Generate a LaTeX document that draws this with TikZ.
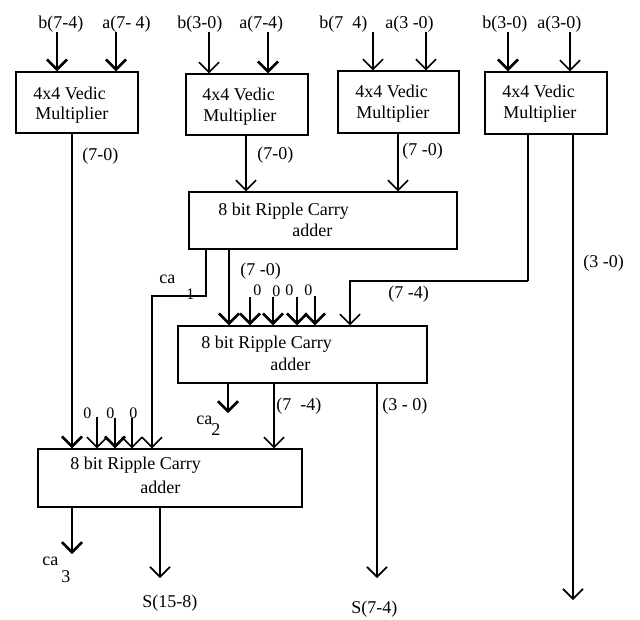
\documentclass[tikz,border=0pt]{standalone}
\usepackage{fontspec}
\setmainfont{Liberation Serif}
\usetikzlibrary{arrows.meta}
\begin{document}
\begin{tikzpicture}[x=0.75pt,y=-0.75pt,
  box/.style={draw,line width=1.1pt,inner sep=0pt,minimum width=#1},
  arr/.style={line width=1.2pt,-{Straight Barb[length=7.5pt,width=15pt,line width=1.2pt]}},
  thk/.style={line width=1.9pt,-{Straight Barb[length=7.5pt,width=15pt,line width=1.9pt]}},
  thkline/.style={line width=1.9pt},
  lbl/.style={inner sep=0pt,anchor=base west,font=\fontsize{13.5}{15}\selectfont},
  sml/.style={inner sep=0pt,anchor=base west,font=\fontsize{12}{13}\selectfont},
  btxt/.style={inner sep=0pt,anchor=base west,font=\fontsize{13.5}{15}\selectfont}]
\useasboundingbox (0,0) rectangle (640,619);
% boxes
\node[box=91.5pt,minimum height=45.75pt] (m1) at (77,102.5) {};
\node[box=91.5pt,minimum height=45.75pt] (m2) at (247,104.5) {};
\node[box=90.75pt,minimum height=46.5pt] (m3) at (398.5,102) {};
\node[box=91.5pt,minimum height=46.5pt] (m4) at (546,103) {};
\node[box=201pt,minimum height=42.75pt] (r1) at (323,220.5) {};
\node[box=186.75pt,minimum height=42.75pt] (r2) at (302.5,354.5) {};
\node[box=198pt,minimum height=43.5pt] (r3) at (170,478) {};
% box texts
\node[btxt] (t1a) at (33,99) {4x4 Vedic};
\node[btxt] (t1b) at (35,119) {Multiplier};
\node[btxt] (t2a) at (202,100) {4x4 Vedic};
\node[btxt] (t2b) at (203,121) {Multiplier};
\node[btxt] (t3a) at (355,97) {4x4 Vedic};
\node[btxt] (t3b) at (356,118) {Multiplier};
\node[btxt] (t4a) at (502,97) {4x4 Vedic};
\node[btxt] (t4b) at (503,118) {Multiplier};
\node[btxt] (r1a) at (218,215) {8 bit Ripple Carry};
\node[btxt] (r1b) at (292,236) {adder};
\node[btxt] (r2a) at (201,348) {8 bit Ripple Carry};
\node[btxt] (r2b) at (270,370) {adder};
\node[btxt] (r3a) at (70,469) {8 bit Ripple Carry};
\node[btxt] (r3b) at (140,493) {adder};
% input labels
\node[lbl] (l1) at (38,28) {b(7-4)};
\node[lbl] (l2) at (102,28) {a(7- 4)};
\node[lbl] (l3) at (177,28) {b(3-0)};
\node[lbl] (l4) at (239,28) {a(7-4)};
\node[lbl] (l5) at (319,28) {b(7\ \ 4)};
\node[lbl] (l6) at (385,28) {a(3 -0)};
\node[lbl] (l7) at (482,28) {b(3-0)};
\node[lbl] (l8) at (537,28) {a(3-0)};
% input coordinates
\coordinate (i1) at (57,32);
\coordinate (i2) at (116,32);
\coordinate (i3) at (209,32);
\coordinate (i4) at (268,32);
\coordinate (i5) at (373,32);
\coordinate (i6) at (426,32);
\coordinate (i7) at (508,32);
\coordinate (i8) at (570,32);
\draw[thk] (i1) -- (i1 |- m1.north);
\draw[thk] (i2) -- (i2 |- m1.north);
\draw[arr] (i3) -- (i3 |- m2.north);
\draw[thk] (i4) -- (i4 |- m2.north);
\draw[arr] (i5) -- (i5 |- m3.north);
\draw[arr] (i6) -- (i6 |- m3.north);
\draw[thk] (i7) -- (i7 |- m4.north);
\draw[arr] (i8) -- (i8 |- m4.north);
% multiplier outputs
\coordinate (c72) at (72,0);
\coordinate (c246) at (246,0);
\coordinate (c398) at (398,0);
\coordinate (k1) at (528,281);
\coordinate (k2) at (350,281);
\coordinate (e4) at (573,600);
\draw[thk] (m1.south -| c72) -- (c72 |- r3.north);
\draw[arr] (m2.south -| c246) -- (c246 |- r1.north);
\draw[arr] (m3.south -| c398) -- (c398 |- r1.north);
\draw[thkline] (m4.south -| k1) -- (k1);
\draw[arr] (k1) -- (k2) -- (k2 |- r2.north);
\draw[arr] (m4.south -| e4) -- (e4);
\node[lbl] (o1) at (82,160) {(7-0)};
\node[lbl] (o2) at (257,159) {(7-0)};
\node[lbl] (o3) at (402,155) {(7 -0)};
\node[lbl] (o4) at (388,298) {(7 -4)};
\node[lbl] (o5) at (583,267) {(3 -0)};
% RCA1 outputs
\coordinate (j1) at (206,296);
\coordinate (j2) at (152,296);
\coordinate (c229) at (229,0);
\draw[arr] (r1.south -| j1) -- (j1) -- (j2) -- (j2 |- r3.north);
\draw[thk] (r1.south -| c229) -- (c229 |- r2.north);
\node[lbl] (ca1) at (159,283) {ca};
\node[sml] (ca1s) at (186,299) {1};
\node[lbl] (o6) at (240,275) {(7 -0)};
% zero inputs to RCA2
\coordinate (z1) at (250,297);
\coordinate (z2) at (273,297);
\coordinate (z3) at (297,297);
\coordinate (z4) at (315,296);
\draw[thk] (z1) -- (z1 |- r2.north);
\draw[thk] (z2) -- (z2 |- r2.north);
\draw[thk] (z3) -- (z3 |- r2.north);
\draw[thk] (z4) -- (z4 |- r2.north);
\node[sml] (n1) at (253,295) {0};
\node[sml] (n2) at (272,296) {0};
\node[sml] (n3) at (285,295) {0};
\node[sml] (n4) at (304,295) {0};
% RCA2 outputs
\coordinate (e2) at (228,413);
\coordinate (c274) at (274,0);
\coordinate (e3) at (377,578);
\draw[thk] (r2.south -| e2) -- (e2);
\draw[arr] (r2.south -| c274) -- (c274 |- r3.north);
\draw[arr] (r2.south -| e3) -- (e3);
\node[lbl] (ca2) at (196,424) {ca};
\node[lbl] (ca2s) at (211,435) {2};
\node[lbl] (o7) at (276,410) {(7\ \ -4)};
\node[lbl] (o8) at (382,410) {(3 - 0)};
% zero inputs to RCA3
\coordinate (y1) at (97,417);
\coordinate (y2) at (115,418);
\coordinate (y3) at (132,418);
\draw[arr] (y1) -- (y1 |- r3.north);
\draw[thk] (y2) -- (y2 |- r3.north);
\draw[arr] (y3) -- (y3 |- r3.north);
\node[sml] (n5) at (83,418) {0};
\node[sml] (n6) at (106,418) {0};
\node[sml] (n7) at (129,418) {0};
% RCA3 outputs
\coordinate (f1) at (72,554);
\coordinate (f2) at (160,578);
\draw[thk] (r3.south -| f1) -- (f1);
\draw[arr] (r3.south -| f2) -- (f2);
\node[lbl] (ca3) at (42,565) {ca};
\node[lbl] (ca3s) at (61,582) {3};
\node[lbl] (s1) at (142,607) {S(15-8)};
\node[lbl] (s2) at (351,613) {S(7-4)};
\end{tikzpicture}
\end{document}
